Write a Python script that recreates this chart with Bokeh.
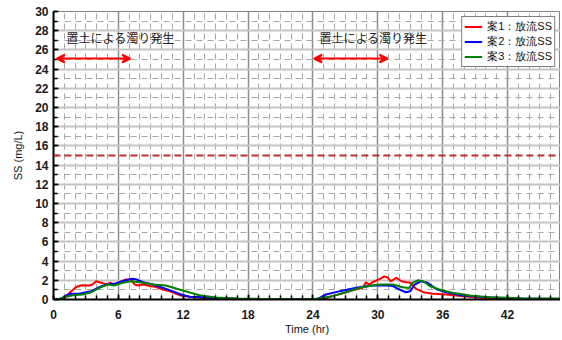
from bokeh.plotting import figure
from bokeh.models import Range1d, FixedTicker, Span, Arrow, VeeHead, Label, Legend, LegendItem
from bokeh.embed import file_html
from bokeh.resources import INLINE

# ---- data ----
red_t = [0, 0.8, 1.5, 2.1, 2.6, 3.3, 3.6, 3.95, 4.25, 4.9, 5.3, 5.6, 6.1, 6.7, 7.2, 7.5, 7.8, 8.3, 8.9, 9.5,
         10.1, 10.7, 11.65, 12.6, 13.5, 15, 17, 19, 21, 23, 24.5, 25.0, 25.8, 27.4, 28.6, 28.9, 29.2, 29.5, 30.2, 30.6,
         30.9, 31.2, 31.7, 32.2, 32.6, 33.0, 33.55, 34.2, 35.1, 36.3, 37.9, 39.4, 42.5, 47]
red_v = [0, 0, 0.7, 1.3, 1.49, 1.46, 1.56, 1.9, 1.8, 1.6, 1.74, 1.56, 1.8, 2.08, 2.08, 1.56, 1.46, 1.56, 1.4, 1.3,
         1.04, 0.87, 0.45, 0.28, 0.17, 0.1, 0.06, 0.04, 0.03, 0.02, 0.02, 0.05, 0.35, 0.87, 1.22, 1.8, 1.55, 1.8, 2.15, 2.4,
         2.3, 1.9, 2.26, 1.9, 1.8, 1.75, 1.1, 0.76, 0.6, 0.52, 0.35, 0.17, 0.07, 0.05]

blue_t = [0, 0.25, 0.7, 1.17, 1.64, 2.4, 3.0, 3.5, 4.1, 4.9, 5.6, 6.4, 7.2, 7.65, 8.3, 9.2, 10.1, 11.0, 11.8, 12.6,
          13.5, 15, 17, 19, 21, 23, 24.4, 25.2, 26.5, 28.0, 29.5, 30.8, 31.4, 32.0, 32.6, 33.0, 33.4, 34.0, 34.6, 35.4,
          36.3, 37.9, 39.4, 42.5, 47]
blue_v = [0, 0, 0.1, 0.41, 0.6, 0.6, 0.76, 0.87, 1.22, 1.56, 1.63, 1.9, 2.15, 2.1, 1.8, 1.56, 1.22, 0.87, 0.52, 0.28,
          0.25, 0.15, 0.08, 0.05, 0.03, 0.02, 0.05, 0.52, 0.87, 1.22, 1.46, 1.46, 1.4, 1.04, 0.76, 0.85, 1.56, 1.9, 1.74, 1.1,
          0.76, 0.42, 0.28, 0.1, 0.05]

green_t = [0, 0.4, 1.17, 1.8, 2.7, 3.5, 4.25, 5.0, 5.6, 6.4, 7.2, 7.95, 9.2, 10.4, 11.65, 13.5, 15, 17, 19, 21,
           23, 24.0, 25.8, 27.1, 28.3, 29.5, 30.2, 31.4, 32.3, 32.9, 33.2, 33.7, 34.2, 34.8, 35.7, 36.9, 38.5, 40.3, 43.4, 47]
green_v = [0, 0, 0.28, 0.45, 0.52, 0.76, 1.22, 1.56, 1.46, 1.74, 1.9, 1.8, 1.56, 1.46, 1.04, 0.45, 0.22, 0.1, 0.06, 0.04,
           0.03, 0.03, 0.35, 0.76, 1.22, 1.46, 1.56, 1.56, 1.28, 1.2, 1.74, 2.0, 1.9, 1.4, 1.04, 0.7, 0.42, 0.24, 0.14, 0.1]

series_names = ["案1：放流SS", "案2：放流SS", "案3：放流SS"]
standard_value = 15
event_text = "置土による濁り発生"
event_start = [0.3, 24.1]
event_end = [7.1, 30.9]
event_text_x = [6.2, 29.6]
event_text_y = 27.3
event_arrow_y = 25.1
x_major = [0, 6, 12, 18, 24, 30, 36, 42]
y_major = list(range(0, 31, 2))
x_title = "Time (hr)"
y_title = "SS (mg/L)"

# ---- figure ----
p = figure(width=560, height=338, output_backend="svg", toolbar_location=None,
           x_range=Range1d(0, 46.9), y_range=Range1d(0, 30),
           min_border_left=53, min_border_right=0, min_border_top=11, min_border_bottom=39)
p.background_fill_color = "white"
p.border_fill_color = "white"
p.outline_line_color = "#808080"
p.outline_line_width = 1

p.xaxis.ticker = FixedTicker(ticks=x_major, minor_ticks=list(range(0, 48)))
p.yaxis.ticker = FixedTicker(ticks=y_major, minor_ticks=list(range(0, 31)))

for ax in (p.xaxis[0], p.yaxis[0]):
    ax.axis_line_color = "black"
    ax.axis_line_width = 2
    ax.major_tick_in = 5
    ax.major_tick_out = 0
    ax.minor_tick_in = 4
    ax.minor_tick_out = 0
    ax.major_tick_line_color = "black"
    ax.minor_tick_line_color = "black"
    ax.major_tick_line_width = 1.5
    ax.minor_tick_line_width = 1.5
    ax.major_label_text_font = "Liberation Sans"
    ax.major_label_text_font_size = "12px"
    ax.major_label_text_font_style = "bold"
    ax.major_label_text_color = "#1a1a1a"
    ax.axis_label_text_font = "Liberation Sans"
    ax.axis_label_text_font_size = "11px"
    ax.axis_label_text_font_style = "normal"
    ax.axis_label_text_color = "#111111"

p.xaxis.axis_label = x_title
p.yaxis.axis_label = y_title
p.xaxis.major_label_standoff = 10
p.xaxis.axis_label_standoff = 1
p.yaxis.major_label_standoff = 5
p.yaxis.axis_label_standoff = 8

p.xgrid.grid_line_color = "#8c8c8c"
p.xgrid.grid_line_width = 1.5
p.xgrid.minor_grid_line_color = "#a8a8a8"
p.xgrid.minor_grid_line_dash = "6 4"
p.xgrid.minor_grid_line_width = 1
p.ygrid.grid_line_color = "#c4c4c4"
p.ygrid.grid_line_width = 2
p.ygrid.minor_grid_line_color = "#a8a8a8"
p.ygrid.minor_grid_line_dash = "6 5"
p.ygrid.minor_grid_line_width = 1

# standard line
p.add_layout(Span(location=standard_value, dimension="width", line_color="#c0302a",
                  line_width=2, line_dash="7 4"))

# series
r1 = p.line(red_t, red_v, line_color="#ff0000", line_width=2)
r2 = p.line(blue_t, blue_v, line_color="#0000ff", line_width=2)
r3 = p.line(green_t, green_v, line_color="#008000", line_width=2)

# event annotations
for xs, xe, tx in zip(event_start, event_end, event_text_x):
    p.add_layout(Arrow(x_start=xs, x_end=xe, y_start=event_arrow_y, y_end=event_arrow_y,
                       line_color="#ff0000", line_width=2,
                       start=VeeHead(size=8, line_color="#ff0000", fill_color="#ff0000", line_width=2),
                       end=VeeHead(size=8, line_color="#ff0000", fill_color="#ff0000", line_width=2)))
    p.add_layout(Label(x=tx, y=event_text_y, text=event_text, text_align="center", text_baseline="middle",
                       text_font="Noto Sans CJK JP", text_font_size="12px", text_color="#222222"))

legend = Legend(items=[LegendItem(label=series_names[0], renderers=[r1]),
                       LegendItem(label=series_names[1], renderers=[r2]),
                       LegendItem(label=series_names[2], renderers=[r3])],
                location="top_right")
legend.border_line_color = "black"
legend.border_line_width = 1.5
legend.label_text_font = "Liberation Sans"
legend.label_text_font_size = "11px"
legend.label_text_color = "#111111"
legend.label_height = 11
legend.glyph_height = 11
legend.glyph_width = 18
legend.spacing = 0
legend.padding = 2
legend.margin = 5
legend.label_standoff = 5
legend.background_fill_alpha = 1
p.add_layout(legend)

open("out.html", "w").write(file_html(p, INLINE))
